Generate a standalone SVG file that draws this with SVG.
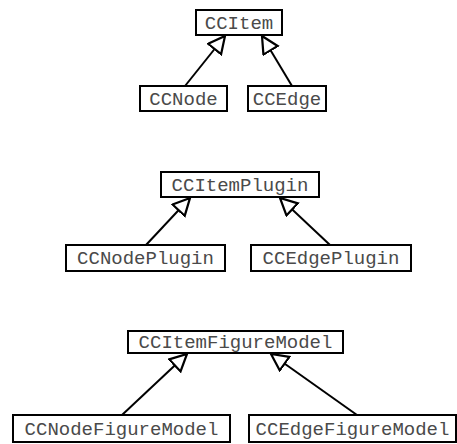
<svg xmlns="http://www.w3.org/2000/svg" width="457" height="444" viewBox="0 0 457 444">
<style>
.box{fill:#fff;stroke:#000;stroke-width:2}
.lbl{font-family:"Liberation Mono","Courier New",monospace;font-size:19px;fill:#4a4a4a;text-anchor:middle}
.edge{stroke:#000;stroke-width:2;fill:none;marker-end:url(#tri)}
</style>
<defs>
<marker id="tri" markerUnits="userSpaceOnUse" markerWidth="20" markerHeight="20" viewBox="-1 -1 18 18" refX="15" refY="7.5" orient="auto">
<path d="M0,0 L15,7.5 L0,15 z" fill="#fff" stroke="#000" stroke-width="2"/>
</marker>
</defs>
<rect width="457" height="444" fill="#fff"/>
<g id="connectors">
<line class="edge" x1="185" y1="86" x2="225" y2="36"/>
<line class="edge" x1="292" y1="86" x2="262" y2="36"/>
<line class="edge" x1="146" y1="245" x2="190" y2="198"/>
<line class="edge" x1="330" y1="245" x2="280" y2="198"/>
<line class="edge" x1="122" y1="415" x2="187" y2="354"/>
<line class="edge" x1="357" y1="415" x2="271" y2="354"/>
</g>
<g id="CCItem"><rect class="box" x="196" y="10" width="86" height="25"/><text class="lbl" x="239" y="29">CCItem</text></g>
<g id="CCNode"><rect class="box" x="140" y="86" width="87" height="25"/><text class="lbl" x="183.5" y="105">CCNode</text></g>
<g id="CCEdge"><rect class="box" x="248" y="86" width="78" height="25"/><text class="lbl" x="287" y="105">CCEdge</text></g>
<g id="CCItemPlugin"><rect class="box" x="161" y="172" width="158" height="25"/><text class="lbl" x="240" y="191">CCItemPlugin</text></g>
<g id="CCNodePlugin"><rect class="box" x="66" y="245" width="159" height="26"/><text class="lbl" x="145.5" y="264">CCNodePlugin</text></g>
<g id="CCEdgePlugin"><rect class="box" x="251" y="245" width="160" height="26"/><text class="lbl" x="331" y="264">CCEdgePlugin</text></g>
<g id="CCItemFigureModel"><rect class="box" x="128" y="331" width="215" height="22"/><text class="lbl" x="235.5" y="348">CCItemFigureModel</text></g>
<g id="CCNodeFigureModel"><rect class="box" x="13" y="415" width="217" height="27"/><text class="lbl" x="121.5" y="435">CCNodeFigureModel</text></g>
<g id="CCEdgeFigureModel"><rect class="box" x="249" y="415" width="207" height="27"/><text class="lbl" x="352.5" y="435">CCEdgeFigureModel</text></g>
</svg>
